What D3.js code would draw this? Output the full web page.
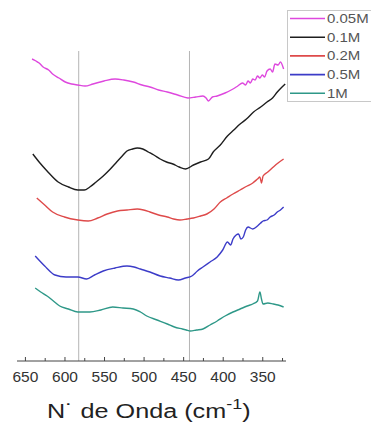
<!DOCTYPE html>
<html><head><meta charset="utf-8">
<script src="https://cdn.jsdelivr.net/npm/d3@7"></script>
<style>body{margin:0;background:#fff}svg{display:block}</style>
</head><body>
<svg id="c" width="371" height="432"></svg>
<script>
// Data (wavenumber in cm^-1, intensity in arbitrary units)
const seriesNames = ["0.05M", "0.1M", "0.2M", "0.5M", "1M"];
const seriesColors = ["#de48de", "#1e1e1e", "#de4a4a", "#3c3cc8", "#2e9888"];
const wave005 = [641,636,632,627,620,615,607,599,591,583,574,564,550,536,525,513,502,492,481,470,457,444,434,425,421,418,413,407,397,387,381,375,371,368,365,362,359,356,353,350,347,344,340,337,334,330,327,323];
const val005  = [302,300,298,294,291,287,283,279,277,276,275,277,280,282,281,279,276,274,271,269,266,263,264,265,263,260,264,265,268,272,275,278,276,280,278,282,281,285,283,286,284,290,292,289,297,296,299,292];
const wave01 = [640,631,622,608,595,583,575,568,560,551,542,534,527,521,514,508,501,494,487,479,471,463,455,447,437,428,418,412,403,394,386,378,370,361,352,344,337,331,325,321];
const val01  = [207,198,190,179,174,171,171,174,179,185,192,199,205,210,212,213,212,209,206,202,199,197,194,192,196,199,202,209,216,225,231,237,242,249,254,259,263,269,274,277];
const wave02 = [635,625,615,600,583,570,558,546,533,521,508,500,492,481,470,462,454,445,437,428,420,411,403,395,387,378,369,362,356,353,351,349,343,336,330,323];
const val02  = [163,156,149,144,141,140,143,147,150,151,152,151,149,146,144,142,141,142,143,145,147,152,159,163,167,171,175,178,182,184,178,185,189,194,198,202];
const wave05 = [637,625,612,598,583,572,562,551,536,521,512,504,492,479,467,456,447,439,432,425,416,407,400,394,390,387,383,380,377,374,371,368,362,356,352,349,344,340,335,331,327,323];
const val05  = [105,95,86,84,84,82,86,90,93,95,94,92,89,85,83,81,83,85,90,94,99,104,111,119,116,122,126,127,122,124,131,134,132,135,138,140,141,144,146,149,151,154];
const wave1 = [637,630,622,614,606,595,583,568,554,539,526,513,504,496,483,470,461,451,446,441,433,425,416,407,397,387,378,369,362,356,353,351,349,343,336,330,323];
const val1  = [73,69,65,60,55,52,49,49,51,54,53,52,49,45,41,37,34,32,31,30,31,32,36,40,45,49,52,55,57,60,69,62,57,58,57,56,54];
const refLines = [582, 442];
const xTicks = [650, 600, 550, 500, 450, 400, 350];
const xMinorTicks = [625, 575, 525, 475, 425, 375, 325];

const waves = [wave005, wave01, wave02, wave05, wave1];
const vals = [val005, val01, val02, val05, val1];

const svg = d3.select("#c");
const x = d3.scaleLinear().domain([660, 320]).range([17, 286]);
const y = d3.scaleLinear().domain([0, 310]).range([361, 51]);
const font = "Liberation Sans, Arial, sans-serif";

// reference vertical lines
svg.selectAll("line.ref").data(refLines).join("line")
  .attr("x1", d => x(d)).attr("x2", d => x(d))
  .attr("y1", y(310)).attr("y2", y(0))
  .attr("stroke", "#b4b4b4").attr("stroke-width", 1);

// curves
const line = d3.line().x(d => x(d[0])).y(d => y(d[1])).curve(d3.curveMonotoneX);
seriesNames.forEach((n, i) => {
  const pts = waves[i].map((w, j) => [w, vals[i][j]]);
  svg.append("path").datum(pts).attr("d", line)
    .attr("fill", "none").attr("stroke", seriesColors[i])
    .attr("stroke-width", 1.4).attr("stroke-linejoin", "round");
});

// x axis
const axisG = svg.append("g").attr("transform", `translate(0,${y(0)})`);
axisG.call(d3.axisBottom(x).tickValues(xTicks).tickSize(-4).tickPadding(10).tickFormat(d3.format("d")));
axisG.append("g").call(d3.axisBottom(x).tickValues(xMinorTicks).tickSize(-3).tickFormat(""));
axisG.selectAll(".domain").attr("stroke", "#444");
axisG.selectAll(".tick line").attr("stroke", "#444");
axisG.select("g .domain").remove();
axisG.select(".domain").attr("d", `M${x(660)},0H${x(320)}`);
axisG.selectAll(".tick text").attr("font-family", font)
  .attr("font-size", 15.5).attr("fill", "#333").attr("dy", "0.71em");

// axis title
const t = svg.append("text").attr("transform", "translate(47,418) scale(1.2,1)")
  .attr("font-family", font).attr("font-size", 21).attr("fill", "#222");
t.append("tspan").text("N˙  de Onda (cm");
t.append("tspan").attr("dy", -9).attr("font-size", 15).text("-1");
t.append("tspan").attr("dy", 9).text(")");

// legend
const lg = svg.append("g");
lg.append("rect").attr("x", 287.5).attr("y", 10.5).attr("width", 90).attr("height", 91)
  .attr("fill", "#fff").attr("stroke", "#c8c8c8");
seriesNames.forEach((n, i) => {
  const yy = 18.5 + i * 18.7;
  lg.append("line").attr("x1", 290).attr("x2", 325).attr("y1", yy).attr("y2", yy)
    .attr("stroke", seriesColors[i]).attr("stroke-width", 1.6);
  lg.append("text").attr("transform", `translate(327,${yy + 4.5}) scale(1.2,1)`).text(n)
    .attr("font-family", font).attr("font-size", 12.5).attr("fill", "#555");
});
</script>
</body></html>
